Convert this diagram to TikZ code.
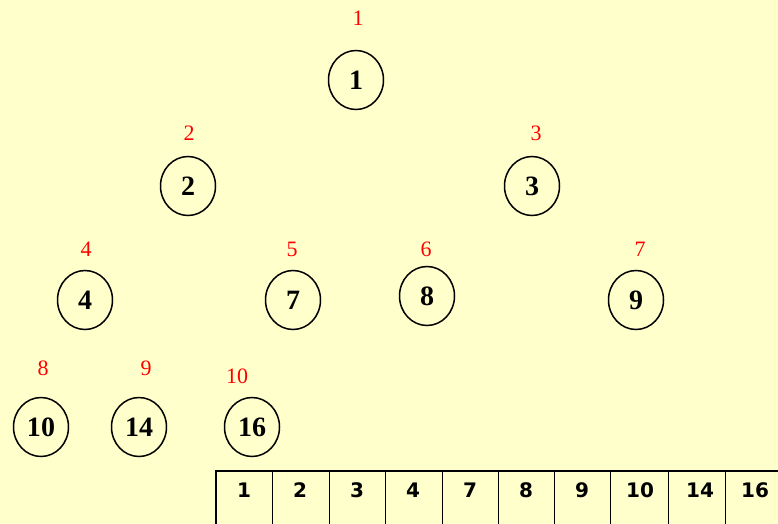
\documentclass[tikz,border=0pt]{standalone}
\usepackage{fontspec}
\setmainfont{Liberation Serif}
\newfontfamily\tabfont{DejaVu Sans}
\usetikzlibrary{shapes.geometric}
\definecolor{bg}{RGB}{255,255,204}
\tikzset{
  heapnode/.style={ellipse, draw=black, line width=1.5pt, minimum width=55pt, minimum height=59pt, inner sep=0pt, font=\fontsize{28}{28}\selectfont\bfseries},
  idx/.style={text=red, inner sep=0pt, font=\fontsize{22}{22}\selectfont},
  cell/.style={inner sep=0pt, font=\fontsize{20}{20}\selectfont\tabfont\bfseries},
  thin/.style={line width=0.8pt, draw=black},
  thick/.style={line width=2.6pt, draw=black}
}
\begin{document}
\begin{tikzpicture}[x=1pt,y=-1pt]
\fill[bg] (0,0) rectangle (778,524);
\useasboundingbox (0,0) rectangle (778,524);
% heap nodes
\node[heapnode] (n1) at (356,80) {1};
\node[heapnode] (n2) at (188,186) {2};
\node[heapnode] (n3) at (532,186) {3};
\node[heapnode] (n4) at (85,300) {4};
\node[heapnode] (n5) at (293,300) {7};
\node[heapnode] (n6) at (427,296) {8};
\node[heapnode] (n7) at (636,300) {9};
\node[heapnode] (n8) at (41,427) {10};
\node[heapnode] (n9) at (139,427) {14};
\node[heapnode] (n10) at (252,427) {16};
% index labels
\node[idx] (i1) at (358,18) {1};
\node[idx] (i2) at (189,133) {2};
\node[idx] (i3) at (536,133) {3};
\node[idx] (i4) at (86,249) {4};
\node[idx] (i5) at (292,249) {5};
\node[idx] (i6) at (426,249) {6};
\node[idx] (i7) at (640,249) {7};
\node[idx] (i8) at (43,368) {8};
\node[idx] (i9) at (146,368) {9};
\node[idx] (i10) at (237,376) {10};
% array
\begin{scope}
\clip (0,0) rectangle (778,524);
\foreach \x in {272,329,385,442,498,554,610,668,725}
  \draw[thin] (\x,471) -- (\x,530);
\draw[thin] (216,530) -- (790,530);
\draw[thick] (216,530) -- (216,471) -- (790,471);
\end{scope}
\node[cell] (c1) at (244,490) {1};
\node[cell] (c2) at (300,490) {2};
\node[cell] (c3) at (357,490) {3};
\node[cell] (c4) at (413,490) {4};
\node[cell] (c5) at (470,490) {7};
\node[cell] (c6) at (526,490) {8};
\node[cell] (c7) at (582,490) {9};
\node[cell] (c8) at (640,490) {10};
\node[cell] (c9) at (700,490) {14};
\node[cell] (c10) at (755,490) {16};
\end{tikzpicture}
\end{document}
